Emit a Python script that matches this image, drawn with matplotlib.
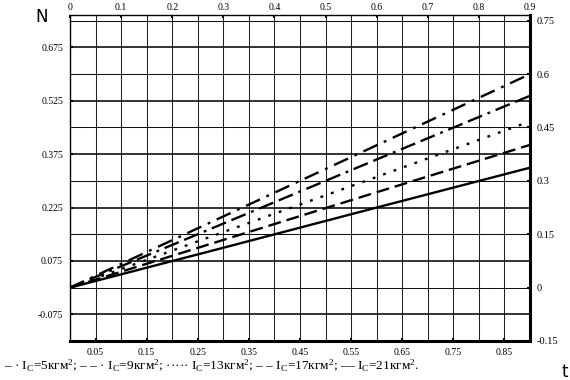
import matplotlib
matplotlib.use("Agg")
import matplotlib.pyplot as plt
import numpy as np

plt.rcParams['font.family'] = ['Liberation Serif', 'DejaVu Serif']
plt.rcParams['mathtext.fontset'] = 'custom'
plt.rcParams['mathtext.rm'] = 'Liberation Serif'
plt.rcParams['mathtext.it'] = 'Liberation Serif:italic'

# data
t = [0.0, 0.3, 0.6, 0.9]
N_5 = [0.0, 0.200, 0.400, 0.600]
N_9 = [0.0, 0.180, 0.360, 0.539]
N_13 = [0.0, 0.156, 0.311, 0.467]
N_17 = [0.0, 0.134, 0.268, 0.401]
N_21 = [0.0, 0.112, 0.225, 0.337]

top_ticks = [0, 0.1, 0.2, 0.3, 0.4, 0.5, 0.6, 0.7, 0.8, 0.9]
top_labels = ['0', '0.1', '0.2', '0.3', '0.4', '0.5', '0.6', '0.7', '0.8', '0.9']
bottom_ticks = [0.05, 0.15, 0.25, 0.35, 0.45, 0.55, 0.65, 0.75, 0.85]
bottom_labels = ['0.05', '0.15', '0.25', '0.35', '0.45', '0.55', '0.65', '0.75', '0.85']
left_ticks = [-0.075, 0.075, 0.225, 0.375, 0.525, 0.675]
left_labels = ['-0.075', '0.075', '0.225', '0.375', '0.525', '0.675']
right_ticks = [-0.15, 0, 0.15, 0.3, 0.45, 0.6, 0.75]
right_labels = ['-0.15', '0', '0.15', '0.3', '0.45', '0.6', '0.75']

fig = plt.figure(figsize=(5.7, 3.8), dpi=100)
ax = fig.add_axes([70/570, 1-341/380, 460/570, 326/380])
ax.set_xlim(0, 0.9)
ax.set_ylim(-0.15, 0.766)

# grid
for x in np.arange(1, 18) * 0.05:
    ax.axvline(x, color='#222222', lw=0.75, zorder=1)
for i, y in enumerate(np.arange(-1, 11) * 0.075):
    lw = 1.2 if i % 2 == 0 else 0.75
    ax.axhline(y, color='#111111', lw=lw, zorder=1)

lw = 1.7
ax.plot(t, N_5, color='black', lw=lw, dashes=(6.5, 3, 1.2, 3), zorder=3)
ax.plot(t, N_9, color='black', lw=lw, dashes=(6.5, 2.5, 6.5, 2.5, 1.2, 2.5), zorder=3)
ax.plot(t, N_13, color='black', lw=lw, dashes=(1.2, 3.5), zorder=3)
ax.plot(t, N_17, color='black', lw=lw, dashes=(5.5, 2.5), zorder=3)
ax.plot(t, N_21, color='black', lw=lw, zorder=3)

for s in ['left', 'top']:
    ax.spines[s].set_linewidth(1.0)
for s in ['bottom', 'right']:
    ax.spines[s].set_linewidth(2.2)

ax.set_yticks(left_ticks)
ax.set_yticklabels(left_labels)
ax.set_xticks(bottom_ticks)
ax.set_xticklabels(bottom_labels)
ax.tick_params(axis='both', direction='in', length=2.5, width=1.5, labelsize=7, pad=5)

axt = ax.twiny()
axt.set_xlim(0, 0.9)
axt.set_xticks(top_ticks)
axt.set_xticklabels(top_labels)
axt.tick_params(direction='in', length=2.5, width=1.5, labelsize=7, pad=2)

axr = ax.twinx()
axr.set_ylim(-0.15, 0.766)
axr.set_yticks(right_ticks)
axr.set_yticklabels(right_labels)
axr.tick_params(direction='in', length=2.5, width=1.5, labelsize=7.5, pad=5)
for a in (axt, axr):
    for s in a.spines.values():
        s.set_visible(False)

fig.text(42/570, 1-17/380, 'N', family='DejaVu Sans', fontsize=12, ha='center', va='center')
fig.text(565/570, 1-372/380, 't', family='DejaVu Sans', fontsize=12, ha='center', va='center')

legend = ("– · $\\mathrm{I_C}$=5кгм$^2$; – – · $\\mathrm{I_C}$=9кгм$^2$; ····· $\\mathrm{I_C}$=13кгм$^2$; "
          "– – $\\mathrm{I_C}$=17кгм$^2$; –– $\\mathrm{I_C}$=21кгм$^2$.")
fig.text(4/570, 1-366/380, legend, fontsize=9.6, ha='left', va='center')

fig.savefig('out.png', dpi=100)
